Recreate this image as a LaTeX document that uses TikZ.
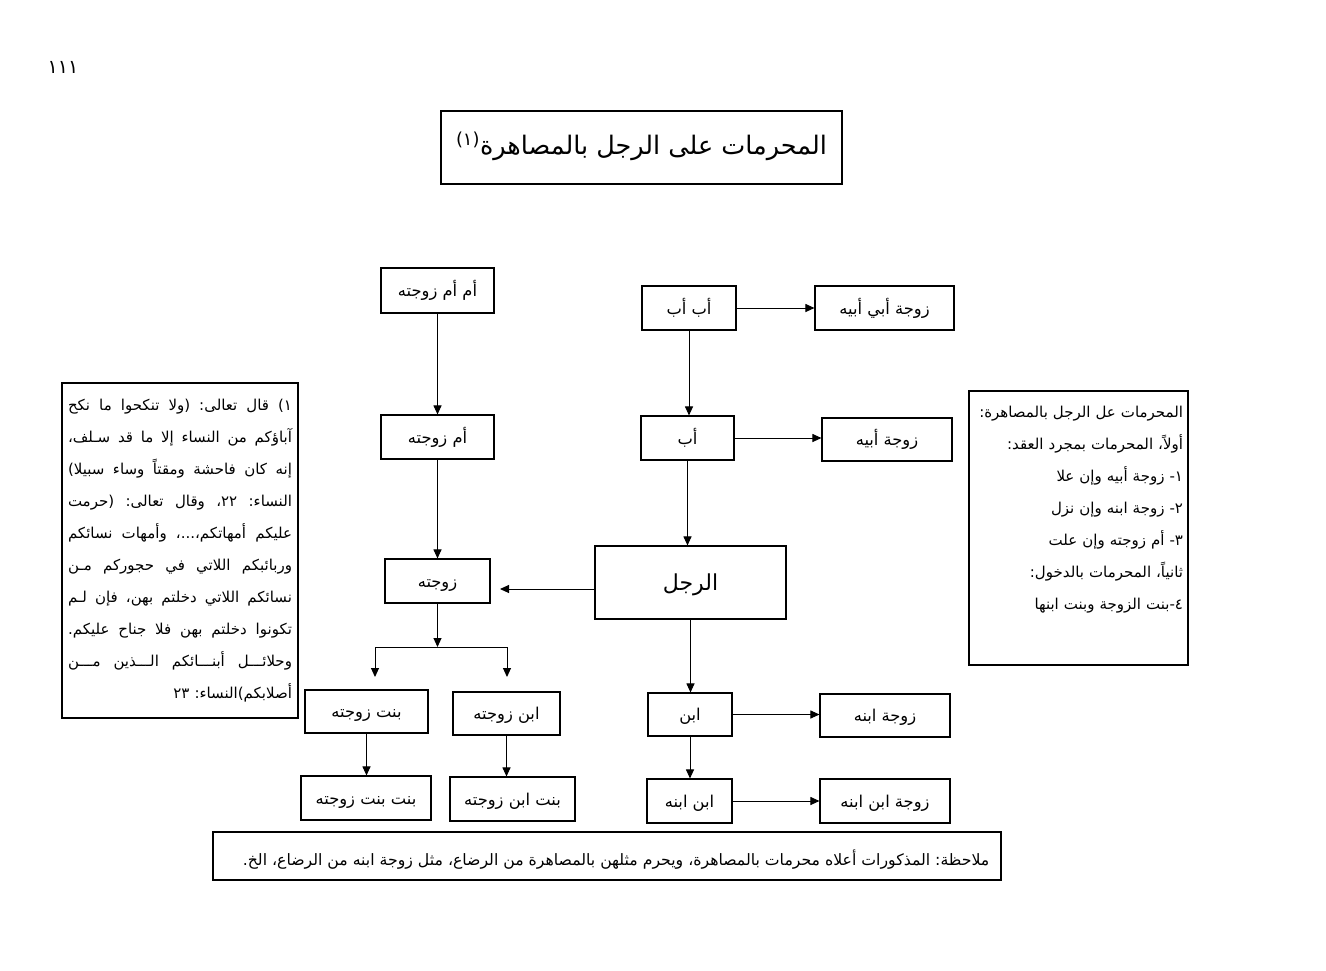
\documentclass[tikz,border=0pt]{standalone}
\usepackage{fontspec}
\setmainfont{DejaVu Sans}
\newfontfamily\arabicfont[Script=Arabic]{DejaVu Sans}
\TeXXeTstate=1
\usetikzlibrary{arrows.meta,calc}
\newcommand{\AR}[1]{{\arabicfont\beginR #1\endR}}
\newcommand{\JL}[1]{\leavevmode\hbox to 224pt{\spaceskip=4pt plus 1fil\relax #1}}
\begin{document}
\frenchspacing
\begin{tikzpicture}[x=1pt,y=-1pt,
  box/.style={draw, line width=1.1pt, inner sep=0pt, text height=14pt, text depth=2pt,
              font=\arabicfont\fontsize{16.3}{19}\selectfont},
  note/.style={draw, line width=1.1pt, inner sep=0pt},
  arr/.style={-{Triangle[length=9pt,width=8pt]}, line width=1pt},
  ln/.style={line width=1pt}]
\useasboundingbox (0,0) rectangle (1326,970);
\fill[white] (0,0) rectangle (1326,970);

% page number
\node[font=\arabicfont\fontsize{19}{22}\selectfont] (pnum) at (63,67) {\AR{١١١}};

% title
\node[draw, line width=1.1pt, minimum width=401pt, minimum height=73pt, inner sep=0pt,
      text height=20pt, text depth=6pt,
      font=\arabicfont\fontsize{25.5}{30}\selectfont] (title) at (641.5,147.5)
      {\AR{المحرمات على الرجل بالمصاهرة\textsuperscript{(١)}}};

% boxes
\node[box, minimum width=113pt, minimum height=45pt] (ummumm) at (437.5,290.5) {\AR{أم أم زوجته}};
\node[box, minimum width=94pt, minimum height=44pt] (abab) at (689,308) {\AR{أب أب}};
\node[box, minimum width=139pt, minimum height=44pt] (zabiabih) at (884.5,308) {\AR{زوجة أبي أبيه}};
\node[box, minimum width=113pt, minimum height=44pt] (ummzawj) at (437.5,437) {\AR{أم زوجته}};
\node[box, minimum width=93pt, minimum height=44pt] (ab) at (687.5,438) {\AR{أب}};
\node[box, minimum width=130pt, minimum height=43pt] (zabih) at (887,439.5) {\AR{زوجة أبيه}};
\node[box, minimum width=191pt, minimum height=73pt, text height=18pt, text depth=3pt,
      font=\arabicfont\fontsize{22}{26}\selectfont] (rajul) at (690.5,582.5) {\AR{الرجل}};
\node[box, minimum width=105pt, minimum height=44pt] (zawjatuh) at (437.5,581) {\AR{زوجته}};
\node[box, minimum width=123pt, minimum height=43pt] (bintzawj) at (366.5,711.5) {\AR{بنت زوجته}};
\node[box, minimum width=107pt, minimum height=43pt] (ibnzawj) at (506.5,713.5) {\AR{ابن زوجته}};
\node[box, minimum width=84pt, minimum height=43pt] (ibn) at (690,714.5) {\AR{ابن}};
\node[box, minimum width=130pt, minimum height=43pt] (zibnih) at (885,715.5) {\AR{زوجة ابنه}};
\node[box, minimum width=130pt, minimum height=44pt] (bbz) at (366,798) {\AR{بنت بنت زوجته}};
\node[box, minimum width=125pt, minimum height=44pt] (biz) at (512.5,799) {\AR{بنت ابن زوجته}};
\node[box, minimum width=85pt, minimum height=44pt] (ibnibnih) at (689.5,801) {\AR{ابن ابنه}};
\node[box, minimum width=130pt, minimum height=44pt] (zibnibnih) at (885,801) {\AR{زوجة ابن ابنه}};

% connectors
\draw[arr] (ummumm) -- (ummzawj);
\draw[arr] (abab.south) -- (abab.south |- ab.north);
\draw[arr] (abab.east) -- (abab.east -| zabiabih.west);
\draw[arr] (ab.east) -- (ab.east -| zabih.west);
\draw[arr] (ab.south) -- (ab.south |- rajul.north);
\draw[arr] (ummzawj) -- (zawjatuh);
\coordinate (rajL) at ($(rajul.west)+(0,6.5)$);
\coordinate (zwTip) at (500,589);
\draw[arr] (rajL) -- (zwTip);
\coordinate (split) at (437.5,647);
\coordinate (splitL) at (375,647);
\coordinate (splitR) at (507,647);
\coordinate (tipL) at (375,677);
\coordinate (tipR) at (507,677);
\draw[arr] (zawjatuh.south) -- (split);
\draw[ln] (splitL) -- (splitR);
\draw[arr] (splitL) -- (tipL);
\draw[arr] (splitR) -- (tipR);
\draw[arr] (rajul.south) -- (rajul.south |- ibn.north);
\draw[arr] (ibn.east) -- (ibn.east -| zibnih.west);
\draw[arr] (ibn.south) -- (ibn.south |- ibnibnih.north);
\draw[arr] (ibnibnih.east) -- (ibnibnih.east -| zibnibnih.west);
\draw[arr] (bintzawj.south) -- (bintzawj.south |- bbz.north);
\draw[arr] (ibnzawj.south) -- (ibnzawj.south |- biz.north);

% left note
\node[draw, line width=2.4pt, minimum width=236pt, minimum height=335pt, inner xsep=6pt, inner ysep=0pt,
      text width=224pt, align=right, font=\arabicfont\fontsize{15}{32}\selectfont] (lnote) at (180,550.5)
{\JL{\beginR ١) قال تعالى: (ولا تنكحوا ما نكح\endR}\\
 \JL{\beginR آباؤكم من النساء إلا ما قد سـلف،\endR}\\
 \JL{\beginR إنه كان فاحشة ومقتاً وساء سبيلا)\endR}\\
 \JL{\beginR النساء: ٢٢، وقال تعالى: (حرمت\endR}\\
 \JL{\beginR عليكم أمهاتكم،...، وأمهات نسائكم\endR}\\
 \JL{\beginR وربائبكم اللاتي في حجوركم مـن\endR}\\
 \JL{\beginR نسائكم اللاتي دخلتم بهن، فإن لـم\endR}\\
 \JL{\beginR تكونوا دخلتم بهن فلا جناح عليكم.\endR}\\
 \JL{\beginR وحلائـــل أبنـــائكم الـــذين مـــن\endR}\\
 \beginR أصلابكم)النساء: ٢٣\endR};

% right note
\node[note, minimum width=219pt, minimum height=274pt, inner xsep=5pt, text width=209pt, align=right,
      font=\arabicfont\fontsize{15}{32}\selectfont] (rnote) at (1078.5,528)
{\beginR المحرمات عل الرجل بالمصاهرة:\endR\\
 \beginR أولاً، المحرمات بمجرد العقد:\endR\\
 \beginR ١- زوجة أبيه وإن علا\endR\\
 \beginR ٢- زوجة ابنه وإن نزل\endR\\
 \beginR ٣- أم زوجته وإن علت\endR\\
 \beginR ثانياً، المحرمات بالدخول:\endR\\
 \beginR ٤-بنت الزوجة وبنت ابنها\endR\\[8pt]
 \mbox{}};

% bottom note
\node[note, minimum width=788pt, minimum height=48pt, text height=20pt, text depth=1pt,
      font=\arabicfont\fontsize{15.7}{19}\selectfont] (bnote) at (607,856)
{\hspace*{18pt}\AR{ملاحظة: المذكورات أعلاه محرمات بالمصاهرة، ويحرم مثلهن بالمصاهرة من الرضاع، مثل زوجة ابنه من الرضاع، الخ.}};
\end{tikzpicture}
\end{document}
